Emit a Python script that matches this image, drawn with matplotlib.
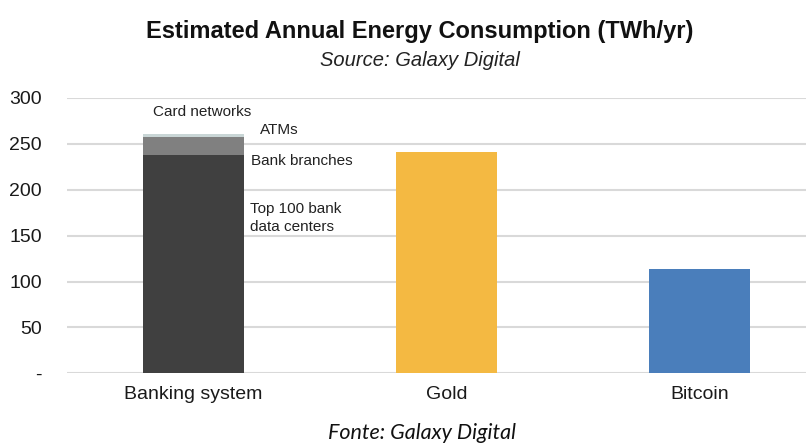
import matplotlib.pyplot as plt
import numpy as np

# Data (TWh/yr)
categories = ['Banking system', 'Gold', 'Bitcoin']
bank_parts = ['Top 100 bank\ndata centers', 'Bank branches', 'ATMs', 'Card networks']
bank_values = [238.3, 19.6, 2.3, 0.9]
gold_value = 240.6
bitcoin_value = 113.9
ytick_values = [0, 50, 100, 150, 200, 250, 300]
ytick_labels = ['-', '50', '100', '150', '200', '250', '300']

plt.rcParams['font.family'] = ['Liberation Sans', 'DejaVu Sans']

fig = plt.figure(figsize=(8.06, 4.45), dpi=100)
ax = fig.add_axes([0.083, 0.161, 0.917, 0.619])

x = np.arange(len(categories))
width = 0.4

# stacked banking bar
part_colors = ['#404040', '#808080', '#c9d6d6', '#dff2f2']
bottom = 0
for val, col in zip(bank_values, part_colors):
    ax.bar(x[0], val, width, bottom=bottom, color=col, zorder=3)
    bottom += val

ax.bar(x[1], gold_value, width, color='#f4b942', zorder=3)
ax.bar(x[2], bitcoin_value, width, color='#4a7ebb', zorder=3)

# segment labels
lbl_kw = dict(fontsize=11, color='#222222', va='center', ha='left')
ax.text(0.222, 169, bank_parts[0], linespacing=1.35, **lbl_kw)
ax.text(0.228, 231, bank_parts[1], **lbl_kw)
ax.text(0.262, 265.5, bank_parts[2], **lbl_kw)
ax.text(-0.16, 285, bank_parts[3], **lbl_kw)

ax.set_xlim(-0.5, 2.42)
ax.set_ylim(0, 300)
ax.set_yticks(ytick_values)
ax.set_yticklabels(ytick_labels)
ax.set_xticks(x)
ax.set_xticklabels(categories)
ax.tick_params(axis='both', length=0, labelsize=14, colors='#1a1a1a')
ax.tick_params(axis='y', pad=18)
ax.tick_params(axis='x', pad=9)
ax.grid(axis='y', color='#d9d9d9', linewidth=1.5, zorder=0)
ax.set_axisbelow(True)
for s in ax.spines.values():
    s.set_visible(False)

fig.text(0.521, 0.930, 'Estimated Annual Energy Consumption (TWh/yr)',
         ha='center', va='center', fontsize=17, fontweight='bold', color='#111111')
fig.text(0.521, 0.863, 'Source: Galaxy Digital', ha='center', va='center',
         fontsize=14.5, style='italic', color='#222222')
fig.text(0.524, 0.028, 'Fonte: Galaxy Digital', ha='center', va='center',
         fontsize=15.5, style='italic', color='#111111', family=['Lato', 'DejaVu Sans'])

fig.savefig('out.png', dpi=100)
